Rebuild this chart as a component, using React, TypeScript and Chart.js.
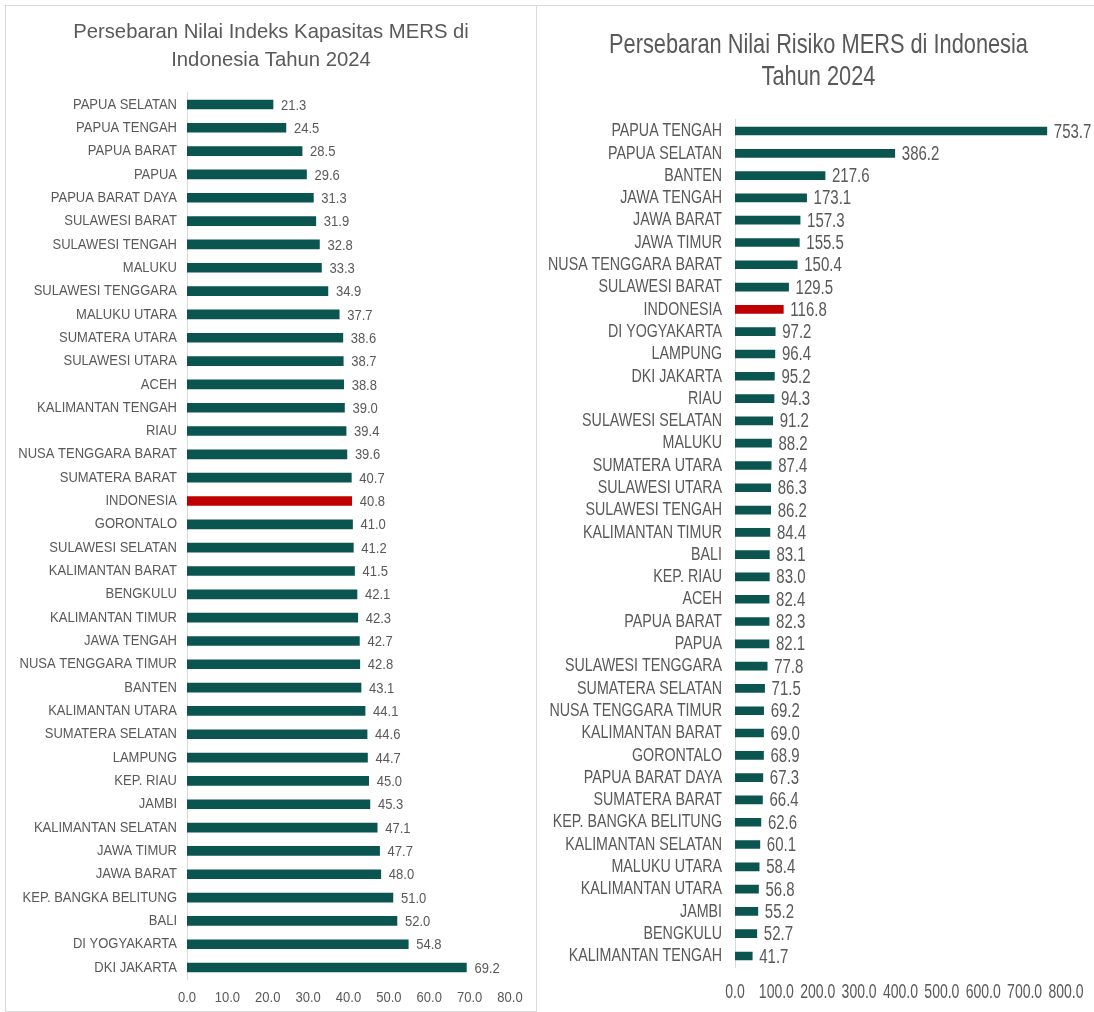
import React, { useEffect, useRef } from "react";
import { Chart, registerables } from "chart.js";

Chart.register(...registerables);

// Indeks Kapasitas MERS per provinsi (urut naik)
const capacityProvinces = [
  "PAPUA SELATAN", "PAPUA TENGAH", "PAPUA BARAT", "PAPUA", "PAPUA BARAT DAYA",
  "SULAWESI BARAT", "SULAWESI TENGAH", "MALUKU", "SULAWESI TENGGARA", "MALUKU UTARA",
  "SUMATERA UTARA", "SULAWESI UTARA", "ACEH", "KALIMANTAN TENGAH", "RIAU",
  "NUSA TENGGARA BARAT", "SUMATERA BARAT", "INDONESIA", "GORONTALO", "SULAWESI SELATAN",
  "KALIMANTAN BARAT", "BENGKULU", "KALIMANTAN TIMUR", "JAWA TENGAH", "NUSA TENGGARA TIMUR",
  "BANTEN", "KALIMANTAN UTARA", "SUMATERA SELATAN", "LAMPUNG", "KEP. RIAU",
  "JAMBI", "KALIMANTAN SELATAN", "JAWA TIMUR", "JAWA BARAT", "KEP. BANGKA BELITUNG",
  "BALI", "DI YOGYAKARTA", "DKI JAKARTA",
];
const capacityValues = [
  21.3, 24.5, 28.5, 29.6, 31.3,
  31.9, 32.8, 33.3, 34.9, 37.7,
  38.6, 38.7, 38.8, 39.0, 39.4,
  39.6, 40.7, 40.8, 41.0, 41.2,
  41.5, 42.1, 42.3, 42.7, 42.8,
  43.1, 44.1, 44.6, 44.7, 45.0,
  45.3, 47.1, 47.7, 48.0, 51.0,
  52.0, 54.8, 69.2,
];
const capacityTicks = [0, 10, 20, 30, 40, 50, 60, 70, 80];

// Nilai Risiko MERS per provinsi (urut turun)
const riskProvinces = [
  "PAPUA TENGAH", "PAPUA SELATAN", "BANTEN", "JAWA TENGAH", "JAWA BARAT",
  "JAWA TIMUR", "NUSA TENGGARA BARAT", "SULAWESI BARAT", "INDONESIA", "DI YOGYAKARTA",
  "LAMPUNG", "DKI JAKARTA", "RIAU", "SULAWESI SELATAN", "MALUKU",
  "SUMATERA UTARA", "SULAWESI UTARA", "SULAWESI TENGAH", "KALIMANTAN TIMUR", "BALI",
  "KEP. RIAU", "ACEH", "PAPUA BARAT", "PAPUA", "SULAWESI TENGGARA",
  "SUMATERA SELATAN", "NUSA TENGGARA TIMUR", "KALIMANTAN BARAT", "GORONTALO", "PAPUA BARAT DAYA",
  "SUMATERA BARAT", "KEP. BANGKA BELITUNG", "KALIMANTAN SELATAN", "MALUKU UTARA", "KALIMANTAN UTARA",
  "JAMBI", "BENGKULU", "KALIMANTAN TENGAH",
];
const riskValues = [
  753.7, 386.2, 217.6, 173.1, 157.3,
  155.5, 150.4, 129.5, 116.8, 97.2,
  96.4, 95.2, 94.3, 91.2, 88.2,
  87.4, 86.3, 86.2, 84.4, 83.1,
  83.0, 82.4, 82.3, 82.1, 77.8,
  71.5, 69.2, 69.0, 68.9, 67.3,
  66.4, 62.6, 60.1, 58.4, 56.8,
  55.2, 52.7, 41.7,
];
const riskTicks = [0, 100, 200, 300, 400, 500, 600, 700, 800];

const capacityTitle = ["Persebaran Nilai Indeks Kapasitas MERS di", "Indonesia Tahun 2024"];
const riskTitle = ["Persebaran Nilai Risiko MERS di Indonesia", "Tahun 2024"];

const NATIONAL = "INDONESIA";
const TEAL = "#0b5550";
const RED = "#c00000";
const TEXT = "#595959";
const SANS = '"Liberation Sans", Arial, sans-serif';

// A family list whose trailing token "w<permille>" asks for horizontally
// condensed glyphs (e.g. w750 = 75% width). The token is not a real font,
// so the browser falls through to Liberation Sans for the shapes.
const condensed = (permille: number) => `"Liberation Sans", Arial, w${permille}`;

function widthFactor(font: string): number {
  const m = /\bw(\d{3,4})\b/.exec(font);
  return m ? Number(m[1]) / 1000 : 1;
}

// Teach a 2D context to honour the width token when it writes or measures text.
function enableCondensedText(ctx: CanvasRenderingContext2D) {
  const fill = ctx.fillText.bind(ctx);
  const measure = ctx.measureText.bind(ctx);
  (ctx as any).fillText = (text: string, x: number, y: number, maxWidth?: number) => {
    const sx = widthFactor(ctx.font);
    if (sx === 1) {
      if (maxWidth === undefined) fill(text, x, y);
      else fill(text, x, y, maxWidth);
      return;
    }
    ctx.save();
    ctx.translate(x, y);
    ctx.scale(sx, 1);
    fill(text, 0, 0);
    ctx.restore();
  };
  (ctx as any).measureText = (text: string) => {
    const m = measure(text);
    const sx = widthFactor(ctx.font);
    if (sx === 1) return m;
    return {
      width: m.width * sx,
      actualBoundingBoxLeft: m.actualBoundingBoxLeft * sx,
      actualBoundingBoxRight: m.actualBoundingBoxRight * sx,
      actualBoundingBoxAscent: m.actualBoundingBoxAscent,
      actualBoundingBoxDescent: m.actualBoundingBoxDescent,
      fontBoundingBoxAscent: m.fontBoundingBoxAscent,
      fontBoundingBoxDescent: m.fontBoundingBoxDescent,
    };
  };
}

type FontSpec = { size: number; width: number };

type PanelConfig = {
  labels: string[];
  values: number[];
  ticks: number[];
  title: string[];
  width: number;
  height: number;
  titleFont: FontSpec & { lineHeight: number };
  titlePadding: { top: number; bottom: number };
  labelFont: FontSpec;
  valueFont: FontSpec;
  tickFont: FontSpec;
  yAxisWidth: number;
  yLabelPad: number;
  xAxisHeight: number;
  xLabelPad: number;
  rightGutter: number;
  barThickness: number;
  valueGap: number;
};

const familyFor = (f: FontSpec) => (f.width === 1000 ? SANS : condensed(f.width));

// Writes each bar's value just past its end.
const valueLabels = {
  id: "valueLabels",
  afterDatasetsDraw(chart: any, _args: any, opts: any) {
    const ctx = chart.ctx;
    const meta = chart.getDatasetMeta(0);
    const data = chart.data.datasets[0].data as number[];
    ctx.save();
    ctx.fillStyle = TEXT;
    ctx.font = `${opts.size}px ${opts.family}`;
    ctx.textAlign = "left";
    ctx.textBaseline = "middle";
    meta.data.forEach((bar: any, i: number) => {
      ctx.fillText(data[i].toFixed(1), bar.x + opts.gap, bar.y + 1);
    });
    ctx.restore();
  },
};

function BarPanel({ cfg }: { cfg: PanelConfig }) {
  const ref = useRef<HTMLCanvasElement | null>(null);

  useEffect(() => {
    const canvas = ref.current;
    if (!canvas) return;
    const ctx = canvas.getContext("2d");
    if (!ctx) return;
    enableCondensedText(ctx);

    const colors = cfg.labels.map((l) => (l === NATIONAL ? RED : TEAL));
    const max = cfg.ticks[cfg.ticks.length - 1];
    const step = cfg.ticks[1] - cfg.ticks[0];
    const chart = new Chart(ctx, {
      type: "bar",
      data: {
        labels: cfg.labels,
        datasets: [
          {
            data: cfg.values,
            backgroundColor: colors,
            borderWidth: 0,
            barThickness: cfg.barThickness,
          },
        ],
      },
      plugins: [valueLabels],
      options: {
        indexAxis: "y",
        responsive: false,
        animation: false,
        devicePixelRatio: 1,
        layout: { padding: 0 },
        plugins: {
          legend: { display: false },
          tooltip: { enabled: false },
          title: {
            display: true,
            text: cfg.title,
            color: TEXT,
            font: {
              family: familyFor(cfg.titleFont),
              size: cfg.titleFont.size,
              weight: "normal",
              lineHeight: cfg.titleFont.lineHeight,
            },
            padding: cfg.titlePadding,
          },
          valueLabels: { size: cfg.valueFont.size, family: familyFor(cfg.valueFont), gap: cfg.valueGap },
        } as any,
        scales: {
          x: {
            min: 0,
            max,
            grid: { display: false, drawTicks: false },
            border: { display: false },
            ticks: {
              stepSize: step,
              color: TEXT,
              padding: cfg.xLabelPad,
              maxRotation: 0,
              minRotation: 0,
              autoSkip: false,
              font: { family: familyFor(cfg.tickFont), size: cfg.tickFont.size },
              callback: (v: any) => Number(v).toFixed(1),
            },
            afterFit: (s: any) => {
              s.height = cfg.xAxisHeight;
            },
          },
          y: {
            grid: { display: false, drawTicks: false },
            border: { display: true, color: "#d9d9d9", width: 1 },
            ticks: {
              color: TEXT,
              padding: cfg.yLabelPad,
              autoSkip: false,
              font: { family: familyFor(cfg.labelFont), size: cfg.labelFont.size },
            },
            afterFit: (s: any) => {
              s.width = cfg.yAxisWidth;
            },
          },
          // empty right-hand gutter that leaves room for the value labels
          gutter: {
            type: "linear",
            position: "right",
            display: true,
            grid: { display: false, drawTicks: false },
            border: { display: false },
            ticks: { display: false },
            afterFit: (s: any) => {
              s.width = cfg.rightGutter;
            },
          },
        },
      } as any,
    });
    return () => chart.destroy();
  }, [cfg]);

  return <canvas ref={ref} width={cfg.width} height={cfg.height} style={{ display: "block" }} />;
}

const capacityCfg: PanelConfig = {
  labels: capacityProvinces,
  values: capacityValues,
  ticks: capacityTicks,
  title: capacityTitle,
  width: 530,
  height: 1006,
  titleFont: { size: 20.3, width: 1000, lineHeight: 28 / 20.3 },
  titlePadding: { top: 12.5, bottom: 18.3 },
  labelFont: { size: 15, width: 867 },
  valueFont: { size: 15, width: 867 },
  tickFont: { size: 15, width: 867 },
  yAxisWidth: 181,
  yLabelPad: 10,
  xAxisHeight: 32.8,
  xLabelPad: 10,
  rightGutter: 26,
  barThickness: 9,
  valueGap: 8,
};

const riskCfg: PanelConfig = {
  labels: riskProvinces,
  values: riskValues,
  ticks: riskTicks,
  title: riskTitle,
  width: 563,
  height: 1006,
  titleFont: { size: 28, width: 778, lineHeight: 32 / 28 },
  titlePadding: { top: 23.5, bottom: 26.35 },
  labelFont: { size: 19, width: 750 },
  valueFont: { size: 20, width: 750 },
  tickFont: { size: 20, width: 700 },
  yAxisWidth: 198,
  yLabelPad: 13,
  xAxisHeight: 44.85,
  xLabelPad: 13,
  rightGutter: 34,
  barThickness: 8,
  valueGap: 7,
};

export default function App() {
  return (
    <div style={{ position: "absolute", left: 0, top: 0, width: 1094, height: 1012, background: "#fff", overflow: "hidden" }}>
      <div
        style={{
          position: "absolute",
          left: 5,
          top: 5,
          width: 532,
          height: 1007,
          border: "1px solid #d9d9d9",
          boxSizing: "border-box",
        }}
      >
        <BarPanel cfg={capacityCfg} />
      </div>
      <div
        style={{
          position: "absolute",
          left: 536,
          top: 5,
          width: 570,
          height: 1020,
          border: "1px solid #d9d9d9",
          boxSizing: "border-box",
        }}
      >
        <BarPanel cfg={riskCfg} />
      </div>
    </div>
  );
}
